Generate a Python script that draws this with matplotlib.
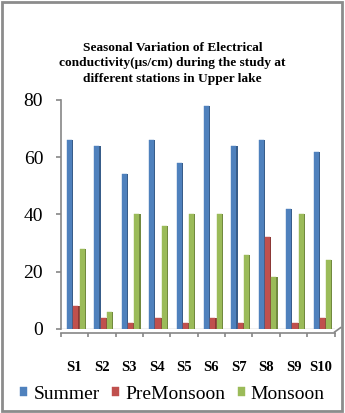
"""
upper_lake_ec.py
Seasonal electrical conductivity at the Upper lake stations.
"""

import numpy as np
import matplotlib.pyplot as plt
from matplotlib.patches import Rectangle

# station labels and readings (us/cm)
stations = ['S1', 'S2', 'S3', 'S4', 'S5', 'S6', 'S7', 'S8', 'S9', 'S10']
summer = [66, 64, 54, 66, 58, 78, 64, 66, 42, 62]
pre_monsoon = [8, 4, 2, 4, 2, 4, 2, 32, 2, 4]
monsoon = [28, 6, 40, 36, 40, 40, 26, 18, 40, 24]

series_names = ['Summer', 'PreMonsoon', 'Monsoon']
face_colors = ['#4F81BD', '#C0504D', '#9BBB59']
side_colors = ['#385D8A', '#8C3836', '#71893F']

serif = 'Liberation Serif'
axis_grey = '#868686'


def main():
    fig = plt.figure(figsize=(3.45, 4.13), dpi=100)
    ax = fig.add_axes([0.176, 0.2034, 0.794, 0.5545])

    x = np.arange(len(stations))
    width = 0.23      # one bar incl. its side face
    side = 0.045      # darker right-hand face
    shift = 0.075     # bars sit slightly right of the label (depth)

    for k, values in enumerate([summer, pre_monsoon, monsoon]):
        pos = x + shift + (k - 1) * width
        ax.bar(pos - side / 2, values, width=width - side,
               color=face_colors[k], edgecolor=face_colors[k], lw=0.3,
               label=series_names[k], zorder=3)
        ax.bar(pos + (width - side) / 2, values, width=side,
               color=side_colors[k], lw=0, zorder=3)

    ax.set_xlim(-0.5, 9.5)
    ax.set_ylim(0, 80)
    ax.set_yticks([0, 20, 40, 60, 80])

    # y axis
    for s in ['top', 'right']:
        ax.spines[s].set_visible(False)
    ax.spines['left'].set_color(axis_grey)
    ax.spines['left'].set_linewidth(1.2)
    ax.tick_params(axis='y', direction='out', length=3.6, width=1.2,
                   color=axis_grey, pad=9)
    for lab in ax.get_yticklabels():
        lab.set_fontfamily(serif)
        lab.set_fontsize(14)

    # floor front edge with category separators
    ax.spines['bottom'].set_position(('outward', 3))
    ax.spines['bottom'].set_color(axis_grey)
    ax.spines['bottom'].set_linewidth(1.2)
    ax.set_xticks(x)
    ax.set_xticklabels(stations, fontfamily=serif, fontweight='bold', fontsize=10.5)
    ax.set_xticks(np.arange(-0.5, 10, 1), minor=True)
    ax.tick_params(axis='x', which='major', length=0, pad=20)
    ax.tick_params(axis='x', which='minor', direction='out', length=3,
                   width=1.2, color=axis_grey)

    # floor back edge and right slant
    ax.axhline(0, color='#B0B0B0', lw=1.0, zorder=2)
    trans = ax.get_xaxis_transform()
    ax.plot([9.5, 9.72], [-0.013, 0.006], color=axis_grey, lw=1.2,
            transform=trans, clip_on=False)

    fig.text(0.5, 0.847,
             'Seasonal Variation of Electrical\n'
             'conductivity(\u00b5s/cm) during the study at\n'
             'different stations in Upper lake',
             ha='center', va='center', fontfamily=serif, fontweight='bold',
             fontsize=9.6, linespacing=1.4)

    fig.legend(loc='center', bbox_to_anchor=(0.5, 0.046), ncol=3,
               frameon=False, prop={'family': serif, 'size': 14},
               handlelength=0.36, handleheight=0.36, handletextpad=0.3,
               columnspacing=0.65, borderaxespad=0)

    # grey frame round the whole chart
    fig.patches.append(Rectangle((2 / 345, 2 / 413), 340 / 345, 409 / 413,
                                 transform=fig.transFigure, fill=False,
                                 edgecolor='#8C8C8C', lw=2))

    fig.savefig('out.png', dpi=100)


if __name__ == '__main__':
    main()
